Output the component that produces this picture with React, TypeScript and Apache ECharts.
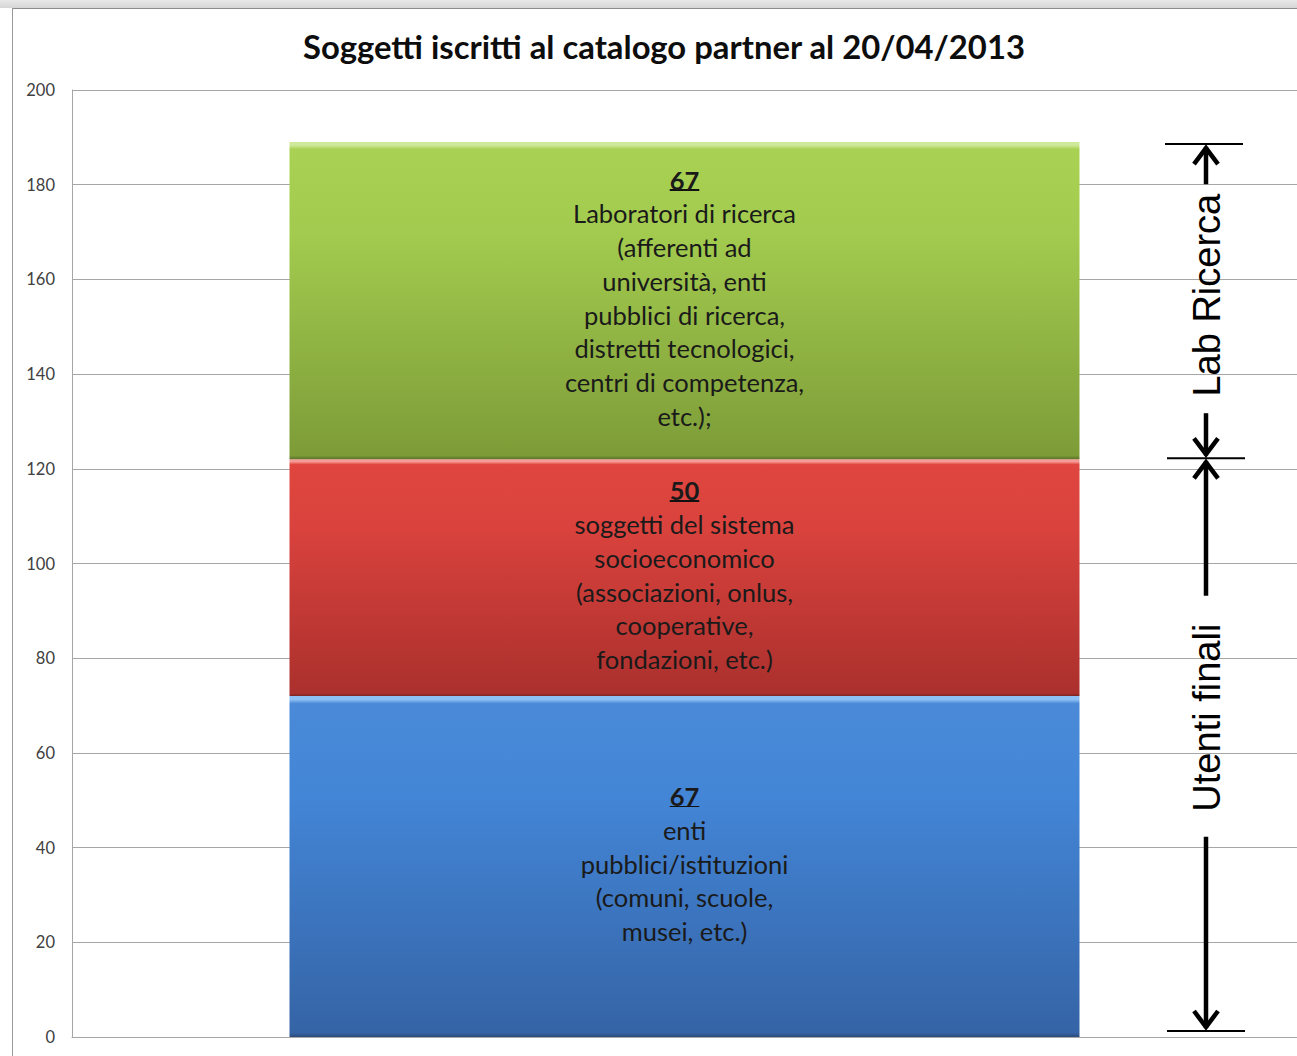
import React, { useEffect, useRef } from "react";
import * as echarts from "echarts";

const categories = ["Catalogo partner"];
const seriesNames = ["Enti pubblici/istituzioni", "Soggetti del sistema socioeconomico", "Laboratori di ricerca"];
const blueValues = [72];
const redValues = [50];
const greenValues = [67];
const labelCounts = ["67", "50", "67"];
const labelLines: string[][] = [
  ["enti", "pubblici/istituzioni", "(comuni, scuole,", "musei, etc.)"],
  ["soggetti del sistema", "socioeconomico", "(associazioni, onlus,", "cooperative,", "fondazioni, etc.)"],
  [
    "Laboratori di ricerca",
    "(afferenti ad",
    "università, enti",
    "pubblici di ricerca,",
    "distretti tecnologici,",
    "centri di competenza,",
    "etc.);",
  ],
];
const yMin = 0;
const yMax = 200;
const yInterval = 20;
const bracketLabels = ["Lab Ricerca", "Utenti finali"];
const titleText = "Soggetti iscritti al catalogo partner al 20/04/2013";

const FONT = "Lato, 'Open Sans', sans-serif";

function grad(top: string, light: string, mid: string, bottom: string, edge: string) {
  return new echarts.graphic.LinearGradient(0, 0, 0, 1, [
    { offset: 0, color: light },
    { offset: 0.01, color: light },
    { offset: 0.022, color: top },
    { offset: 0.3, color: mid },
    { offset: 0.988, color: bottom },
    { offset: 1, color: edge },
  ]);
}

function makeLabel(idx: number) {
  const lines = labelLines[idx].map((l) => `{t|${l}}`).join("\n");
  return `{n|${labelCounts[idx]}}\n${lines}`;
}

const underline = new echarts.graphic.LinearGradient(0, 0, 0, 1, [
  { offset: 0, color: "rgba(0,0,0,0)" },
  { offset: 0.87, color: "rgba(0,0,0,0)" },
  { offset: 0.87, color: "#111" },
  { offset: 0.93, color: "#111" },
  { offset: 0.93, color: "rgba(0,0,0,0)" },
  { offset: 1, color: "rgba(0,0,0,0)" },
]);

const rich = {
  n: {
    fontFamily: FONT,
    fontSize: 25.5,
    fontWeight: "bold",
    color: "#1a1a1a",
    lineHeight: 33.7,
    backgroundColor: underline,
  },
  t: {
    fontFamily: FONT,
    fontSize: 25.5,
    color: "#1a1a1a",
    lineHeight: 33.7,
  },
};

export default function App() {
  const ref = useRef<HTMLDivElement>(null);
  useEffect(() => {
    if (!ref.current) return;
    const chart = echarts.init(ref.current, null, { renderer: "svg" });
    const mkSeries = (name: string, data: number[], idx: number, color: any) => ({
      name,
      type: "bar",
      stack: "total",
      data,
      barWidth: 790,
      itemStyle: { color },
      label: {
        show: true,
        position: "inside",
        offset: [0, -3],
        formatter: () => makeLabel(idx),
        rich,
      },
      emphasis: { disabled: true },
    });
    chart.setOption({
      animation: false,
      backgroundColor: "#ffffff",
      title: {
        text: titleText,
        left: 303,
        top: 30,
        padding: 0,
        textStyle: { fontFamily: FONT, fontSize: 32.8, fontWeight: "bold", color: "#0d0d0d" },
      },
      grid: { left: 72, right: 0, top: 90, bottom: 19 },
      xAxis: {
        type: "category",
        data: categories,
        axisLine: { show: true, lineStyle: { color: "#a6a6a6" } },
        axisTick: { show: false },
        axisLabel: { show: false },
      },
      yAxis: {
        type: "value",
        min: yMin,
        max: yMax,
        interval: yInterval,
        axisLine: { show: true, lineStyle: { color: "#a6a6a6" } },
        axisTick: { show: false },
        splitLine: { lineStyle: { color: "#a6a6a6" } },
        axisLabel: { color: "#404040", fontSize: 16.5, fontFamily: FONT, margin: 17 },
      },
      series: [
        mkSeries(seriesNames[0], blueValues, 0, grad("#4a8ad8", "#8fc0f5", "#4385d6", "#3564a6", "#2b4a78")),
        mkSeries(seriesNames[1], redValues, 1, grad("#e0463f", "#f79a95", "#d9423d", "#ab302d", "#7a2320")),
        mkSeries(seriesNames[2], greenValues, 2, grad("#a9d254", "#cfe99a", "#a2ca4e", "#7d9c38", "#5a7028")),
      ],
    });

    const py = (v: number) => chart.convertToPixel({ yAxisIndex: 0 }, v) as number;
    const v0 = 0;
    const v1 = blueValues[0] + redValues[0];
    const v2 = v1 + greenValues[0];
    const yTop = py(v2) + 2;
    const yMid = py(v1) - 1;
    const yBot = py(v0) - 6;
    const ax = 1206;
    const black = "#000";
    const hLine = (y: number, x1: number, x2: number) => ({
      type: "line",
      shape: { x1, y1: y, x2, y2: y },
      style: { stroke: black, lineWidth: 2 },
      silent: true,
    });
    const vLine = (y1: number, y2: number) => ({
      type: "line",
      shape: { x1: ax, y1, x2: ax, y2 },
      style: { stroke: black, lineWidth: 4.5 },
      silent: true,
    });
    const head = (tip: number, dir: number) => ({
      type: "polyline",
      shape: { points: [[ax - 12, tip + dir * 20], [ax, tip + dir * 4], [ax + 12, tip + dir * 20]] },
      style: { stroke: black, lineWidth: 4.5, fill: null, lineJoin: "miter" },
      silent: true,
    });
    const vText = (text: string, y: number) => ({
      type: "text",
      x: ax + 1,
      y,
      rotation: Math.PI / 2,
      silent: true,
      style: {
        text,
        font: "38px 'Liberation Sans', Arial, sans-serif",
        fill: black,
        align: "center",
        verticalAlign: "middle",
      },
    });
    const labCenter = (yTop + yMid) / 2 - 6;
    const labHalf = 106;
    const utCenter = (yMid + yBot) / 2 - 27;
    const utHalf = 97;
    chart.setOption({
      graphic: [
        {
          type: "rect",
          shape: { x: 0, y: 0, width: 1297, height: 8 },
          style: {
            fill: new echarts.graphic.LinearGradient(0, 0, 0, 1, [
              { offset: 0, color: "#e8e8e8" },
              { offset: 1, color: "#d6d6d6" },
            ]),
          },
          silent: true,
        },
        { type: "line", shape: { x1: 12, y1: 8.5, x2: 1297, y2: 8.5 }, style: { stroke: "#8c8c8c", lineWidth: 1 }, silent: true },
        { type: "line", shape: { x1: 12.5, y1: 8, x2: 12.5, y2: 1056 }, style: { stroke: "#9a9a9a", lineWidth: 1 }, silent: true },
        hLine(yTop, 1165, 1243),
        hLine(yMid, 1167, 1245),
        hLine(yBot, 1167, 1245),
        vLine(yTop + 3, labCenter - labHalf - 5),
        head(yTop, 1),
        vLine(labCenter + labHalf + 12, yMid - 3),
        head(yMid, -1),
        vText(bracketLabels[0], labCenter),
        vLine(yMid + 3, utCenter - utHalf - 25),
        head(yMid, 1),
        vLine(utCenter + utHalf + 22, yBot - 3),
        head(yBot, -1),
        vText(bracketLabels[1], utCenter),
      ],
    });
    return () => chart.dispose();
  }, []);
  return (
    <div
      ref={ref}
      style={{ position: "absolute", left: 0, top: 0, width: 1297, height: 1056 }}
    />
  );
}
